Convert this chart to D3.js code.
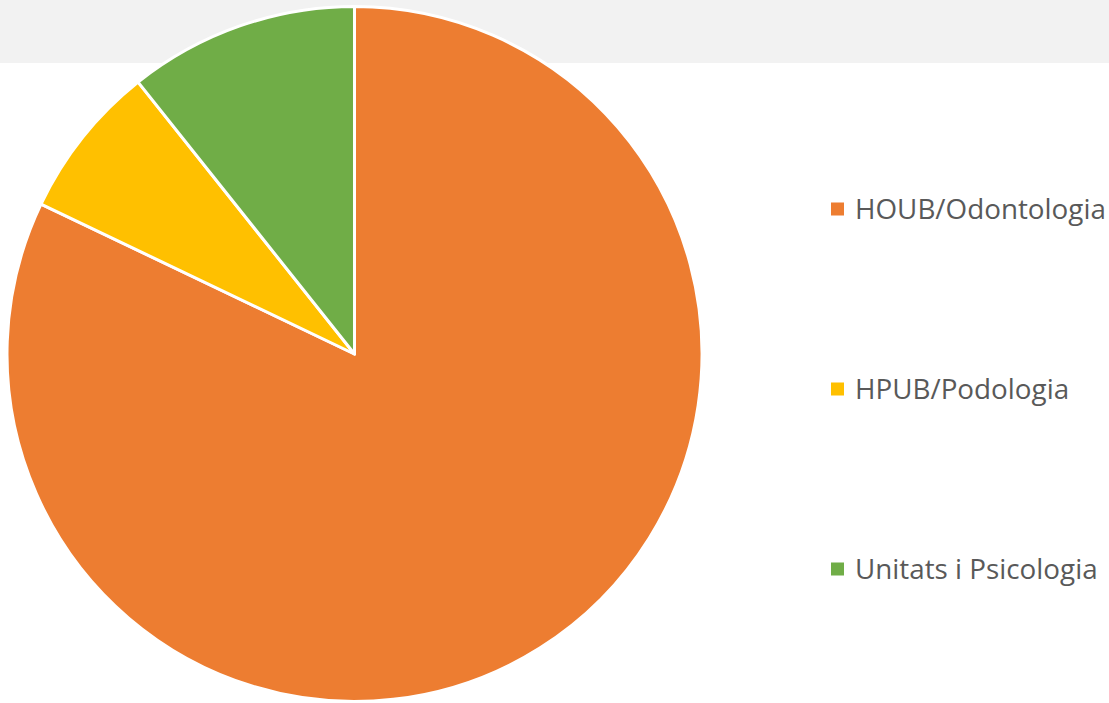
<!DOCTYPE html>
<html>
<head>
<meta charset="utf-8">
<script src="https://cdn.jsdelivr.net/npm/d3@7"></script>
<style>
  html, body { margin: 0; padding: 0; background: #ffffff; }
  svg { display: block; }
</style>
</head>
<body>
<svg id="chart" width="1109" height="703"></svg>
<script>
// Share of cases by service
const categories = ["HOUB/Odontologia", "HPUB/Podologia", "Unitats i Psicologia"];
const values = [82.1, 7.2, 10.7];
const colors = ["#ED7D31", "#FFC000", "#70AD47"];

const width = 1109, height = 703;
const svg = d3.select("#chart");

// light header band
svg.append("rect")
  .attr("x", 0).attr("y", 0)
  .attr("width", width).attr("height", 63)
  .attr("fill", "#f2f2f2");

const cx = 354.5, cy = 354, radius = 347.5;

const pie = d3.pie().sort(null).value(d => d);
const arc = d3.arc().innerRadius(0).outerRadius(radius);
const color = d3.scaleOrdinal().domain(categories).range(colors);

const g = svg.append("g").attr("transform", `translate(${cx},${cy})`);
g.selectAll("path")
  .data(pie(values))
  .join("path")
  .attr("d", arc)
  .attr("fill", (d, i) => color(categories[i]))
  .attr("stroke", "#ffffff")
  .attr("stroke-width", 3)
  .attr("stroke-linejoin", "round");

// legend
const legendY = d3.scalePoint().domain(categories).range([209, 569]);
const legend = svg.append("g");
const item = legend.selectAll("g")
  .data(categories)
  .join("g")
  .attr("transform", d => `translate(831,${legendY(d)})`);
item.append("rect")
  .attr("x", 0).attr("y", -6.5)
  .attr("width", 13).attr("height", 13)
  .attr("fill", d => color(d));
item.append("text")
  .attr("x", 24).attr("y", 0)
  .attr("dy", "0.35em")
  .attr("font-family", "'Open Sans', sans-serif")
  .attr("font-size", 27.8)
  .attr("fill", "#595959")
  .text(d => d);
</script>
</body>
</html>
